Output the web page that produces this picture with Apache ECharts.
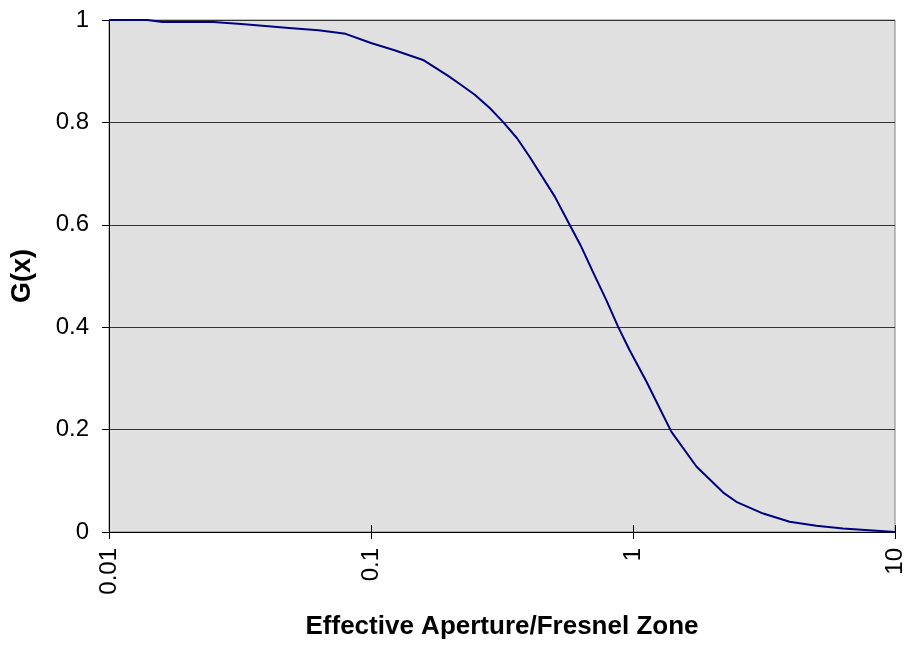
<!DOCTYPE html>
<html>
<head>
<meta charset="utf-8">
<script src="https://cdn.jsdelivr.net/npm/echarts@6/dist/echarts.min.js"></script>
<style>
html,body{margin:0;padding:0;background:#fff;}
#chart{width:909px;height:649px;}
</style>
</head>
<body>
<div id="chart"></div>
<script>
// Data
var apertureX = [0.01, 0.014, 0.016, 0.025, 0.032, 0.05, 0.063, 0.08, 0.1, 0.123, 0.158, 0.197, 0.221, 0.249, 0.284, 0.319, 0.361, 0.403, 0.503, 0.565, 0.635, 0.703, 0.791, 0.877, 0.971, 1.125, 1.40, 1.746, 2.21, 2.48, 3.14, 3.96, 5.01, 6.33, 10];
var gValues = [1, 1, 0.996, 0.996, 0.992, 0.984, 0.980, 0.973, 0.955, 0.941, 0.922, 0.891, 0.873, 0.854, 0.828, 0.801, 0.769, 0.733, 0.655, 0.606, 0.557, 0.508, 0.453, 0.401, 0.355, 0.294, 0.196, 0.128, 0.077, 0.059, 0.036, 0.020, 0.012, 0.007, 0];
var xAxisTitle = 'Effective Aperture/Fresnel Zone';
var yAxisTitle = 'G(x)';

var points = apertureX.map(function (x, i) { return [x, gValues[i]]; });

var chart = echarts.init(document.getElementById('chart'), null, {renderer: 'canvas'});
var font = 'Liberation Sans, Arial, sans-serif';
chart.setOption({
  animation: false,
  backgroundColor: '#ffffff',
  grid: {
    left: 109, right: 14, top: 20, bottom: 117,
    show: true, backgroundColor: '#e0e0e0', borderColor: '#808080', borderWidth: 1
  },
  xAxis: [{
    type: 'log', logBase: 10, min: 0.01, max: 10,
    name: xAxisTitle, nameLocation: 'middle', nameGap: 82,
    nameTextStyle: {fontFamily: font, fontSize: 26, fontWeight: 'bold', color: '#000'},
    axisLine: {show: true, lineStyle: {color: '#000', width: 1}},
    axisTick: {show: true, length: 7, lineStyle: {color: '#000'}},
    axisLabel: {rotate: 90, margin: 16, fontFamily: font, fontSize: 24, color: '#000',
      formatter: function (v) { return String(+v.toPrecision(3)); }},
    splitLine: {show: false}
  }, {
    type: 'log', logBase: 10, min: 0.01, max: 10, position: 'bottom',
    axisLine: {show: false},
    axisTick: {show: true, inside: true, length: 7, lineStyle: {color: '#000'}},
    axisLabel: {show: false},
    splitLine: {show: false}
  }],
  yAxis: {
    type: 'value', min: 0, max: 1, interval: 0.2,
    name: yAxisTitle, nameLocation: 'middle', nameGap: 73, nameRotate: 90,
    nameTextStyle: {fontFamily: font, fontSize: 27, fontWeight: 'bold', color: '#000'},
    axisLine: {show: true, lineStyle: {color: '#000', width: 1}},
    axisTick: {show: true, length: 7, lineStyle: {color: '#000'}},
    axisLabel: {margin: 20, fontFamily: font, fontSize: 24, color: '#000',
      formatter: function (v) { return String(+v.toFixed(1)); }},
    splitLine: {show: true, lineStyle: {color: '#333333', width: 1}}
  },
  series: [{
    type: 'line',
    data: points,
    xAxisIndex: 0,
    showSymbol: false,
    symbol: 'none',
    lineStyle: {color: '#000080', width: 2},
    z: 5
  }]
});
</script>
</body>
</html>
